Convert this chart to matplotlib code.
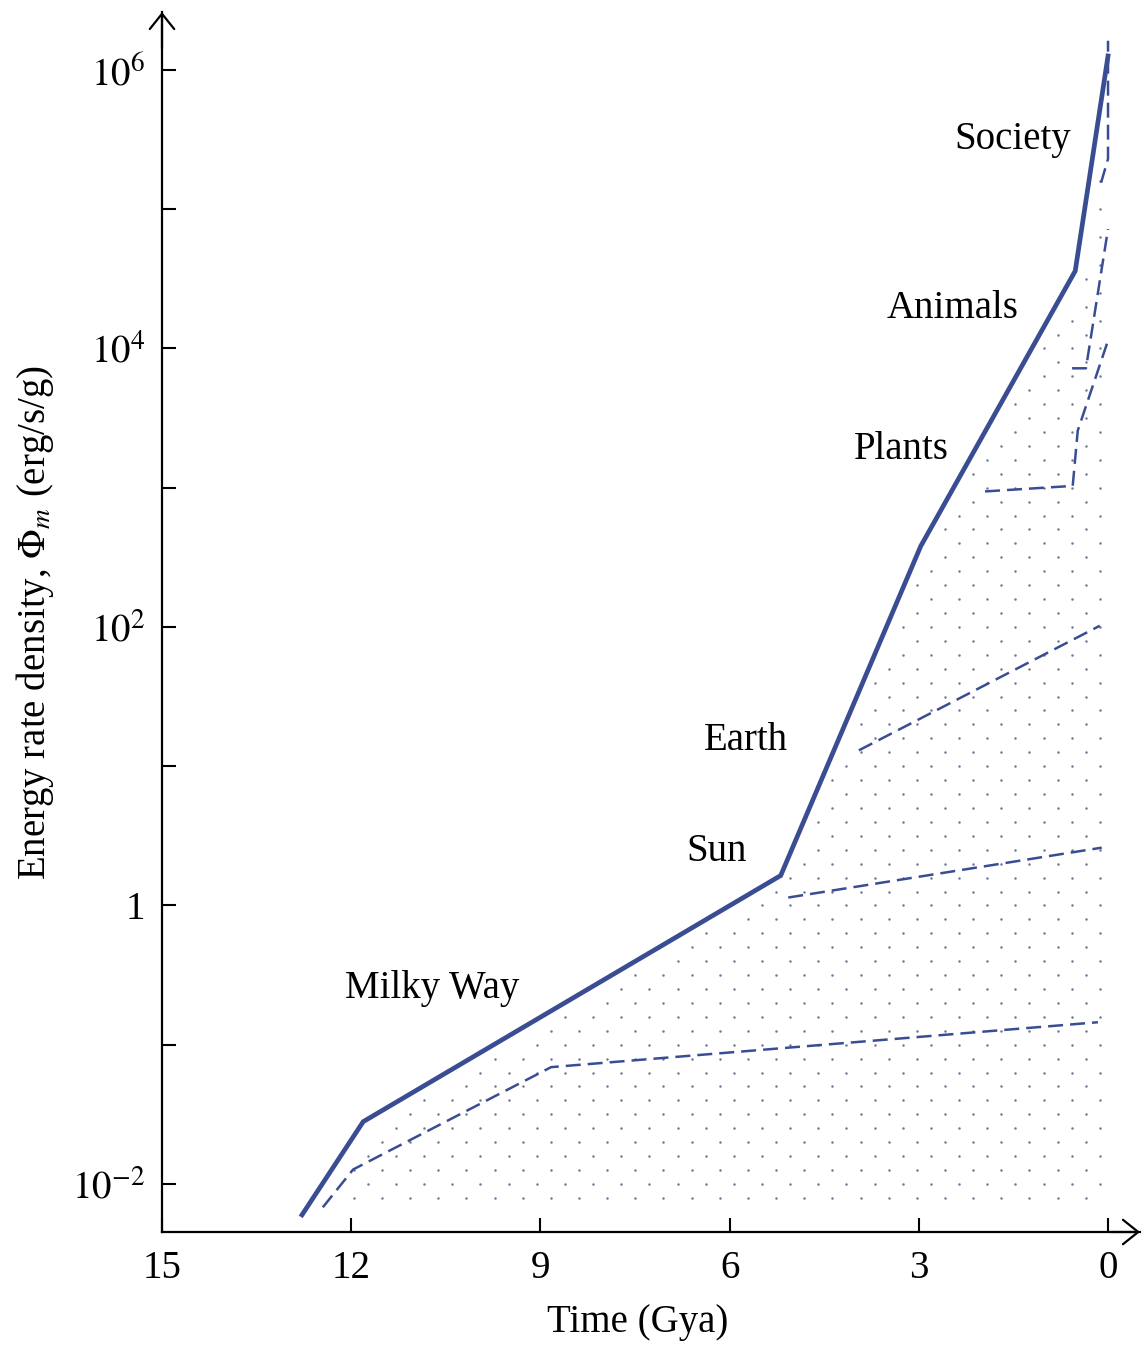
import numpy as np
import matplotlib.pyplot as plt

plt.rcParams['font.family'] = ['Liberation Serif', 'DejaVu Serif']
plt.rcParams['mathtext.fontset'] = 'stix'

# Hauptkurve (Zeit in Gya, Energierate-Dichte in erg/s/g)
time_main = [12.78, 11.81, 5.19, 2.97, 0.52, 0.0]
phi_main = [6.0e-3, 2.8e-2, 1.64, 380, 3.6e4, 1.26e6]

# gestrichelte Einzelsysteme
time_milky = [12.45, 11.97, 8.83, 0.16]
phi_milky = [6.8e-3, 1.27e-2, 6.9e-2, 0.145]
time_sun = [5.07, 0.10]
phi_sun = [1.14, 2.6]
time_earth = [3.95, 0.13]
phi_earth = [13, 102]
time_plants = [1.95, 0.56, 0.48, 0.0]
phi_plants = [940, 1030, 2570, 1.14e4]
time_animals = [0.57, 0.35, 0.0]
phi_animals = [7.2e3, 7.2e3, 7.2e4]
time_society = [0.11, 0.0, 0.0]
phi_society = [1.55e5, 2.3e5, 1.62e6]

# Beschriftungen
labels = ['Milky Way', 'Sun', 'Earth', 'Plants', 'Animals', 'Society']
label_time = [10.72, 6.20, 5.74, 3.27, 2.47, 1.51]
label_phi = [0.215, 2.1, 13.0, 1620, 1.66e4, 2.72e5]

x_ticks = [15, 12, 9, 6, 3, 0]
y_ticks = [1e-2, 1, 1e2, 1e4, 1e6]
y_ticklabels = ['$10^{-2}$', '1', '$10^{2}$', '$10^{4}$', '$10^{6}$']
y_minor = [1e-1, 1e1, 1e3, 1e5]

blue = '#3a4d92'

fig = plt.figure(figsize=(11.45, 13.47), dpi=100)
ax = fig.add_axes([162 / 1145, 115 / 1347, 978 / 1145, 1220 / 1347])

# Punktraster unter der Kurve (Abstand zur Kurve grob in Pixeln)
sx, sy = 63.07, 139.3
cols = np.arange(0, 70)
rows = np.arange(-21, 64)
kk, rr = np.meshgrid(cols, rows)
xx = (0.13 + kk * 0.2232).ravel()
logy = (rr / 10.0).ravel()
par = ((kk + rr) % 2 == 0).ravel()
curve = np.interp(xx, time_main[::-1], np.log10(phi_main)[::-1])
px, py = xx * sx, logy * sy
cx, cy = np.array(time_main) * sx, np.log10(phi_main) * sy
dist = np.full(px.shape, np.inf)
for i in range(len(cx) - 1):
    ax_, ay_ = cx[i], cy[i]
    dx, dy = cx[i + 1] - ax_, cy[i + 1] - ay_
    t = np.clip(((px - ax_) * dx + (py - ay_) * dy) / (dx * dx + dy * dy), 0, 1)
    dist = np.minimum(dist, np.hypot(px - ax_ - t * dx, py - ay_ - t * dy))
mask = par & (logy < curve) & (dist > 9) & (xx < 12.0)
ax.scatter(xx[mask], 10 ** logy[mask], s=3.2, color='#48557f', alpha=0.8,
           linewidths=0, zorder=1)

ax.plot(time_main, phi_main, color=blue, lw=3.4, solid_joinstyle='miter', zorder=3)
for t, p in [(time_milky, phi_milky), (time_sun, phi_sun), (time_earth, phi_earth),
             (time_plants, phi_plants), (time_animals, phi_animals),
             (time_society, phi_society)]:
    ax.plot(t, p, color=blue, lw=1.8, dashes=(6, 2.8), zorder=2)

for lab, t, p in zip(labels, label_time, label_phi):
    ax.text(t, p, lab, fontsize=28, ha='center', va='baseline')

ax.set_yscale('log')
ax.set_xlim(15, -0.507)
ax.set_ylim(10 ** -2.345, 10 ** 6.416)

ax.set_xticks(x_ticks)
ax.set_xticklabels([str(v) for v in x_ticks])
ax.set_yticks(y_ticks)
ax.set_yticklabels(y_ticklabels)
ax.set_yticks(y_minor, minor=True)
ax.yaxis.set_minor_formatter(plt.NullFormatter())
ax.tick_params(which='both', direction='in', length=10, width=1.5, labelsize=28)
ax.tick_params(axis='x', pad=13)
ax.tick_params(axis='y', pad=12)

for side in ['top', 'right']:
    ax.spines[side].set_visible(False)
for side in ['left', 'bottom']:
    ax.spines[side].set_linewidth(1.6)

# Pfeilspitzen an den Achsen
arrow = dict(arrowstyle='->,head_length=0.5,head_width=0.4', lw=1.6,
             color='black', shrinkA=0, shrinkB=0, mutation_scale=22)
ax.annotate('', xy=(0, 1), xytext=(0, 0.97), xycoords='axes fraction', arrowprops=arrow)
ax.annotate('', xy=(1, 0), xytext=(0.97, 0), xycoords='axes fraction', arrowprops=arrow)

ax.text(0.486, -0.074, 'Time (Gya)', transform=ax.transAxes, fontsize=28,
        ha='center', va='center')
ax.set_ylabel('Energy rate density, $\\Phi_m$ (erg/s/g)', fontsize=28, labelpad=12)

fig.savefig('out.png', dpi=100)
